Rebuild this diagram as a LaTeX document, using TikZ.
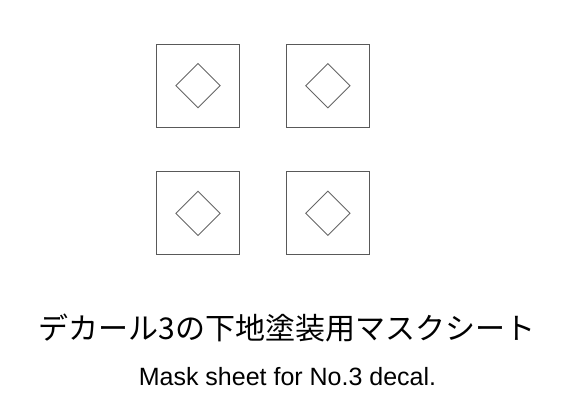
\documentclass[tikz,border=0pt]{standalone}
\usepackage{fontspec}
\setmainfont{Liberation Sans}
\newfontfamily\cjk{Noto Sans CJK JP}
\usetikzlibrary{shapes.geometric, positioning}

\begin{document}
\begin{tikzpicture}[x=1pt, y=1pt,
    sheet/.style={draw=black!65, line width=1.2pt, minimum size=83pt, inner sep=0pt},
    hole/.style={diamond, draw=black!60, line width=0.9pt, minimum size=44.6pt, inner sep=0pt}]
    \useasboundingbox (0, 0) rectangle (561, 408);

    \node[sheet] (a) at (198, 322.3) {};
    \node[sheet, right=45.7pt of a] (b) {};
    \node[sheet, below=43.4pt of a] (c) {};
    \node[sheet, right=45.7pt of c] (d) {};

    \node[hole] (ha) at (a) {};
    \node[hole] (hb) at (b) {};
    \node[hole] (hc) at (c) {};
    \node[hole] (hd) at (d) {};

    \node[anchor=base, inner sep=0pt, font=\cjk\fontsize{30}{36}\selectfont] (title) at (287, 69) {デカール3の下地塗装用マスクシート};
    \node[anchor=base, inner sep=0pt, font=\fontsize{25}{30}\selectfont] (sub) at (287.5, 23) {Mask sheet for No.3 decal.};
\end{tikzpicture}
\end{document}
